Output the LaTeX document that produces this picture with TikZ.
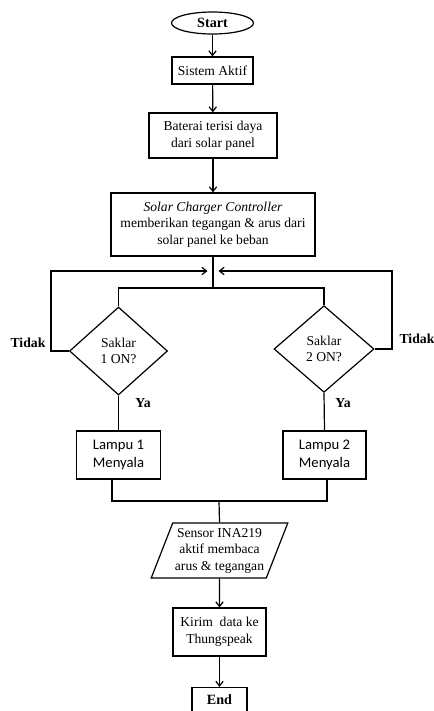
\documentclass[tikz,border=0pt]{standalone}
\usepackage{fontspec}
\setmainfont{Liberation Serif}
\newfontfamily\lampufont{Carlito}
\usetikzlibrary{shapes.geometric,arrows.meta}

\tikzset{every picture/.style={line width=0.9pt}}
\tikzset{
  teks/.style={font=\fontsize{10.2}{12.4}\selectfont},
  proses/.style={draw, rectangle, align=center, inner sep=0.75pt, teks},
  terminal/.style={draw, ellipse, align=center, inner sep=0.75pt, font=\fontsize{10.6}{12.4}\selectfont\bfseries},
  keputusan/.style={draw, diamond, align=center, inner sep=0pt, teks},
  masukan/.style={draw, trapezium, trapezium left angle=66, trapezium right angle=114, trapezium stretches=true, align=center, inner sep=0.75pt, teks},
  lampu/.style={draw, rectangle, align=center, inner sep=0.75pt, font=\fontsize{11}{13.5}\selectfont\lampufont},
  tebal/.style={inner sep=0.75pt, font=\fontsize{10.3}{12.4}\selectfont\bfseries},
  panah/.style={-{Straight Barb[length=3.5pt,width=5.5pt]}}
}

\begin{document}
\begin{tikzpicture}[x=0.75pt,y=0.75pt,yscale=-1,xscale=1]
\useasboundingbox (0,0) rectangle (434,711);
% Shape: Ellipse
\node [terminal, minimum width=61.5pt, minimum height=16.5pt] (start) at (212.5,23) {Start};
% Shape: Rectangle
\node [proses, minimum width=60.75pt, minimum height=20.25pt] (aktif) at (212.5,70.5) {Sistem Aktif};
% Shape: Rectangle
\node [proses, minimum width=96pt, minimum height=33.75pt] (baterai) at (213,135.5) {Baterai terisi daya\\dari solar panel};
% Shape: Rectangle
\node [proses, minimum width=153pt, minimum height=47.25pt] (scc) at (213,224.5) {\textit{Solar Charger Controller}\\memberikan tegangan \& arus dari\\solar panel ke beban};
% Shape: Diamond
\node [keputusan, minimum width=73.5pt, minimum height=66pt] (saklar1) at (118.5,351) {Saklar\\1 ON?};
% Shape: Diamond
\node [keputusan, minimum width=75pt, minimum height=65pt] (saklar2) at (324,349) {Saklar\\2 ON?};
% Shape: Rectangle
\node [lampu, minimum width=63pt, minimum height=36pt] (lampu1) at (118.5,455) {Lampu 1\\Menyala};
% Shape: Rectangle
\node [lampu, minimum width=62.25pt, minimum height=36pt] (lampu2) at (324.5,455) {Lampu 2\\Menyala};
% Shape: Parallelogram
\node [masukan, minimum width=102.75pt, minimum height=41.25pt] (sensor) at (219.5,550.5) {Sensor INA219\\aktif membaca\\arus \& tegangan};
% Shape: Rectangle
\node [proses, minimum width=69.75pt, minimum height=36pt] (kirim) at (219.5,632) {Kirim\ \ data ke\\Thungspeak};
% Shape: Rectangle
\node [proses, minimum width=41.25pt, minimum height=18.75pt, font=\fontsize{10.6}{12.4}\selectfont\bfseries] (end) at (219.5,700) {End};

% Text Node
\node [tebal] (tidak1) at (28,343) {Tidak};
% Text Node
\node [tebal] (tidak2) at (417,339) {Tidak};
% Text Node
\node [tebal] (ya1) at (143,403) {Ya};
% Text Node
\node [tebal] (ya2) at (343,403) {Ya};

\coordinate (cabang) at (213,288);
\coordinate (kiri) at (51,271);
\coordinate (masukkiri) at (207.5,271);
\coordinate (kanan) at (392,271);
\coordinate (masukkanan) at (218.5,271);
\coordinate (gabung) at (219,501);
\coordinate (bawah1) at (112,480);
\coordinate (bawah2) at (327,480);

\draw [panah] (start) -- (aktif);
\draw [panah] (aktif) -- (baterai);
\draw [panah] (baterai) -- (scc);
\draw (scc.south) -- (cabang);
\draw (saklar1.north) |- (cabang) -| (saklar2.north);
\draw [panah] (saklar1.west) -| (kiri) -- (masukkiri);
\draw [panah] (saklar2.east) -| (kanan) -- (masukkanan);
\draw (saklar1.south) -- (lampu1.north);
\draw (saklar2.south) -- (lampu2.north);
\draw (bawah1) |- (gabung) -| (bawah2);
\draw (gabung) -- (sensor.north);
\draw [panah] (sensor) -- (kirim);
\draw [panah] (kirim) -- (end);
\end{tikzpicture}
\end{document}
